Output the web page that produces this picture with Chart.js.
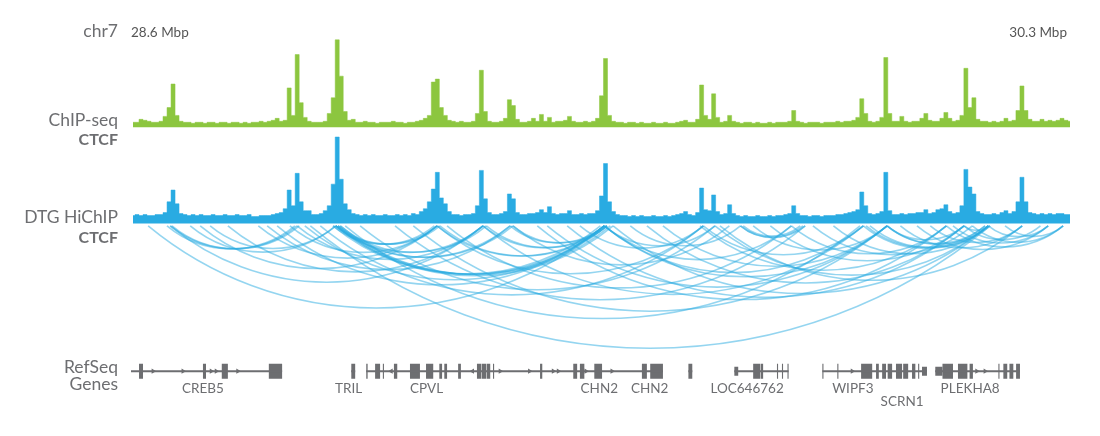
<!DOCTYPE html>
<html>
<head>
<meta charset="utf-8">
<script src="https://cdn.jsdelivr.net/npm/chart.js@4.4.0/dist/chart.umd.min.js"></script>
<style>
  body { margin: 0; background: #fff; }
  canvas { display: block; }
</style>
</head>
<body>
<canvas id="chart" width="1100" height="436"></canvas>
<script>
// window shown: chr7 28.6 - 30.3 Mbp, positions below are kb from the window start
const WIN_START_MBP = 28.6;
const WIN_END_MBP = 30.3;
const WIN_KB = 1700;

// binned coverage, one value per bin across the window
const chipSignal = [
  5,5,8,7,6,5,5,6,11,20,44,12,6,5,5,4,5,5,4,5,
  5,4,5,5,4,5,5,4,5,4,5,5,6,5,6,7,9,6,7,40,
  12,74,25,10,6,5,5,5,6,14,30,89,52,16,7,8,5,5,6,5,
  5,4,5,5,5,6,5,5,4,5,5,6,7,9,12,46,49,20,12,7,
  6,5,6,5,5,6,14,58,16,6,5,5,6,9,28,22,8,5,5,6,
  9,6,13,6,10,5,6,6,7,11,6,5,5,6,5,6,9,32,70,12,
  6,5,5,4,5,5,4,5,4,4,5,4,4,5,4,4,5,6,7,5,
  5,8,43,12,8,34,10,5,6,12,6,5,4,5,5,4,5,4,4,5,
  4,5,5,5,6,17,6,5,4,5,5,5,4,5,5,5,6,5,6,6,
  7,10,29,14,6,5,6,10,71,14,6,6,11,6,5,6,6,9,14,7,
  6,6,9,15,9,6,7,12,60,20,30,8,6,6,5,6,5,6,9,6,
  7,17,42,17,8,6,6,8,6,7,6,7,9,7,6
];
const hichipSignal = [
  8,9,8,9,8,8,9,9,11,22,34,20,10,9,8,9,8,9,8,8,
  9,8,8,9,8,8,9,8,8,9,7,7,8,8,8,9,10,11,15,34,
  18,51,22,13,13,9,9,10,13,18,40,88,45,20,14,10,9,8,9,8,
  9,8,8,9,8,8,9,8,9,8,10,9,12,15,22,35,52,26,20,12,
  9,9,8,9,9,10,18,54,25,11,9,9,10,12,30,25,11,9,9,10,
  10,11,14,11,17,10,9,10,10,13,9,9,10,9,10,10,13,28,61,22,
  12,9,8,8,7,8,7,8,7,7,8,7,7,8,7,8,9,10,12,9,
  8,11,36,14,13,29,12,9,10,19,10,8,7,8,7,7,8,7,7,8,
  7,8,8,9,10,18,10,8,8,7,8,8,7,8,8,8,9,9,10,11,
  12,14,32,18,10,9,10,12,52,13,9,9,10,9,10,10,11,11,14,10,
  11,14,15,19,12,10,11,18,55,37,30,12,10,9,9,10,9,11,13,10,
  12,22,47,22,11,10,9,10,9,10,9,10,10,9,9
];

// HiChIP loops (anchor positions, kb)
const arcStart = [31,71,65,74,71,107,125,143,175,230,246,264,287,300,314,324,342,
  370,365,374,370,365,374,378,370,370,374,370,378,387,414,477,510,553,558,553,571,
  636,642,636,685,690,690,734,752,788,811,855,855,855,855,871,902,932,961,1028,1034,
  1055,1064,1101,1106,1101,1124,1155,1193,1232,1269,1323,1328,1335,1366,1366,1366,
  1390,1420,1444,1473,1485,1505,1505,1520,1549,1579];
const arcEnd = [855,300,296,304,636,370,553,370,636,553,685,855,553,636,855,1552,1034,
  553,548,558,855,848,860,866,871,685,690,636,642,1317,1055,1218,1366,855,860,1034,1193,
  855,860,1323,855,860,1081,1473,1366,1505,1034,1055,1193,1323,1366,1549,1101,1505,1366,1473,1323,
  1549,1610,1214,1209,1218,1366,1505,1473,1520,1549,1549,1543,1552,1549,1543,1505,
  1610,1657,1610,1684,1657,1549,1643,1684,1657,1684];

// RefSeq genes
const geneNames   = ['CREB5','TRIL','CPVL','CHN2','CHN2','','LOC646762','WIPF3','SCRN1','PLEKHA8'];
const geneStart   = [0, 398, 425, 652, 851, 1007, 1090, 1249, 1344, 1453];
const geneEnd     = [273, 405, 652, 851, 961, 1014, 1188, 1344, 1438, 1606];
const geneLabelAt = [130, 393, 534, 846, 937, null, 1113, 1304, 1393, 1516];
const geneLabelRow = [0, 0, 0, 0, 0, 0, 0, 0, 1, 0];

const exonStart = [14.5,130,164,249, 398,
  425,441,455,475,504,533,557,566,591,625,634,643,
  654,739,799,811,837, 923,938, 1007,
  1124,1138,1167,1176,1186, 1249,1276,1319,
  1346,1357,1367,1382,1395,1411,1422,
  1466,1494,1515,1567,1576,1587,1599,
  1090,1429,1453];
const exonEnd = [21.7,135.5,175,273, 405,
  427.5,450,457,481,522,546,562,571,596,633,642,649,
  656,743,806,819,851, 932,961, 1014,
  1137,1142,1169,1178,1188, 1251,1278,1339,
  1351,1364,1375,1393,1404,1417,1424,
  1485,1511,1521,1569,1583,1594,1606,
  1097,1438,1466];
const exonKind = exonStart.map((s, i) => i < 47 ? 'cds' : 'utr');

const arrowPos    = [40,94,145,154,193, 470,617, 667,720,763,772,822,869, 1303, 1528,1543];
const arrowStrand = [1,1,1,1,1, -1,-1, 1,1,1,1,1,1, 1, 1,1];

// layout / style
const H = 436;
const CHIP_BASE = 125.5;
const HIC_BASE = 223.5;
const GENE_Y = 374;
const ARC_DEPTH = 0.18;
const GREEN = '#8cc63f';
const BLUE = '#29abe2';
const GRAY = '#6d6e71';
const FONT = 'Lato, "Open Sans", sans-serif';

const BIN_KB = WIN_KB / chipSignal.length;
function binned(arr) {
  return arr.map((v, i) => ({ x: (i + 0.5) * BIN_KB, y: v }));
}
function segments(starts, ends) {
  const out = [];
  starts.forEach((s, i) => {
    out.push({ x: s, y: 0 }, { x: ends[i], y: 0 }, { x: ends[i], y: null });
  });
  return out;
}

const cdsIdx = exonKind.map((k, i) => k === 'cds' ? i : -1).filter(i => i >= 0);
const utrIdx = exonKind.map((k, i) => k === 'utr' ? i : -1).filter(i => i >= 0);

const trackPainter = {
  id: 'trackPainter',
  afterDatasetsDraw(chart) {
    const ctx = chart.ctx;
    const x = chart.scales.x;
    const yHic = chart.scales.yHic;
    const yGene = chart.scales.yGene;
    const top = yHic.getPixelForValue(0) + 2.5;

    ctx.save();
    // loops as arcs hanging below the HiChIP track
    ctx.strokeStyle = 'rgba(41,171,226,0.5)';
    ctx.lineWidth = 1.6;
    for (let i = 0; i < arcStart.length; i++) {
      const a = x.getPixelForValue(arcStart[i]);
      const b = x.getPixelForValue(arcEnd[i]);
      const c = b - a;
      const sag = ARC_DEPTH * c;
      const r = (c * c / 4 + sag * sag) / (2 * sag);
      const cx = (a + b) / 2;
      const cy = top + sag - r;
      const ang = Math.atan2(top - cy, b - cx);
      ctx.beginPath();
      ctx.arc(cx, cy, r, ang, Math.PI - ang, false);
      ctx.stroke();
    }

    // track names
    ctx.fillStyle = GRAY;
    ctx.textAlign = 'right';
    ctx.textBaseline = 'alphabetic';
    ctx.font = '17.5px ' + FONT;
    ctx.fillText('chr7', 118, 37);
    ctx.fillText('ChIP-seq', 118, 126);
    ctx.fillText('DTG HiChIP', 118, 223);
    ctx.fillText('RefSeq', 118, 373);
    ctx.fillText('Genes', 118, 390);
    ctx.font = 'bold 16px ' + FONT;
    ctx.fillText('CTCF', 118, 145);
    ctx.fillText('CTCF', 118, 243);

    // window coordinates
    ctx.font = '13.5px ' + FONT;
    ctx.fillStyle = '#555';
    ctx.textAlign = 'left';
    ctx.fillText(WIN_START_MBP.toFixed(1) + ' Mbp', x.getPixelForValue(x.min), 37);
    ctx.textAlign = 'right';
    ctx.fillText(WIN_END_MBP.toFixed(1) + ' Mbp', x.getPixelForValue(x.max) - 5, 37);

    // gene names
    ctx.font = '13.5px ' + FONT;
    ctx.fillStyle = GRAY;
    ctx.textAlign = 'center';
    const gy = yGene.getPixelForValue(0);
    geneNames.forEach((n, g) => {
      if (!n) return;
      ctx.fillText(n, x.getPixelForValue(geneLabelAt[g]), gy + 22 + geneLabelRow[g] * 13);
    });
    ctx.restore();
  }
};

new Chart(document.getElementById('chart'), {
  type: 'line',
  data: {
    datasets: [
      { data: binned(chipSignal), yAxisID: 'yChip', fill: 'origin', stepped: 'middle',
        backgroundColor: GREEN, borderColor: GREEN, borderWidth: 0.5, pointRadius: 0 },
      { data: binned(hichipSignal), yAxisID: 'yHic', fill: 'origin', stepped: 'middle',
        backgroundColor: BLUE, borderColor: BLUE, borderWidth: 0.5, pointRadius: 0 },
      { data: segments(geneStart, geneEnd), yAxisID: 'yGene',
        borderColor: GRAY, borderWidth: 2, pointRadius: 0, spanGaps: false },
      { data: segments(cdsIdx.map(i => exonStart[i]), cdsIdx.map(i => exonEnd[i])), yAxisID: 'yGene',
        borderColor: GRAY, borderWidth: 15, borderCapStyle: 'butt', pointRadius: 0, spanGaps: false },
      { data: segments(utrIdx.map(i => exonStart[i]), utrIdx.map(i => exonEnd[i])), yAxisID: 'yGene',
        borderColor: GRAY, borderWidth: 9, borderCapStyle: 'butt', pointRadius: 0, spanGaps: false },
      { type: 'scatter', data: arrowPos.map(p => ({ x: p, y: 0 })), yAxisID: 'yGene',
        pointStyle: 'triangle', pointRotation: arrowStrand.map(s => s > 0 ? 90 : -90),
        pointRadius: 3, backgroundColor: GRAY, borderWidth: 0 }
    ]
  },
  options: {
    responsive: false,
    animation: false,
    devicePixelRatio: 1,
    layout: { padding: { left: 131, right: 28, top: 0, bottom: 0 } },
    plugins: { legend: { display: false }, tooltip: { enabled: false } },
    elements: { line: { tension: 0 } },
    scales: {
      x: { type: 'linear', min: 0, max: WIN_KB, display: false },
      yChip: { type: 'linear', min: CHIP_BASE - H, max: CHIP_BASE, display: false },
      yHic: { type: 'linear', min: HIC_BASE - H, max: HIC_BASE, display: false },
      yGene: { type: 'linear', min: GENE_Y - H, max: GENE_Y, display: false }
    }
  },
  plugins: [trackPainter]
});
</script>
</body>
</html>
